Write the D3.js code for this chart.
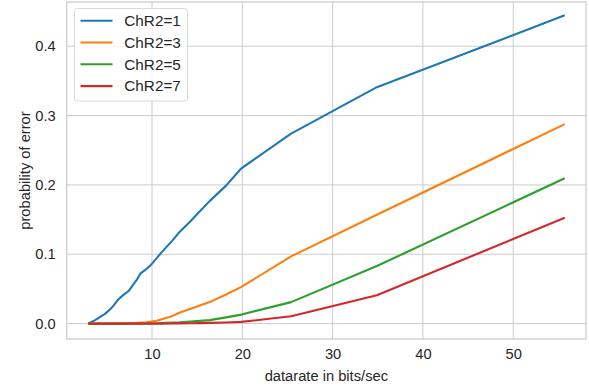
<!DOCTYPE html>
<html lang="en">
<head>
    <meta charset="UTF-8">
    <title>Probability of error vs datarate</title>
    <style>
        body {
            margin: 0;
            background: #fff;
            font-family: "Liberation Sans", Arial, sans-serif;
        }
        svg text {
            fill: #262626;
        }
    </style>
</head>
<body>

<div id="chart"></div>

<script src="https://d3js.org/d3.v7.min.js"></script>
<script>
    // datarate (bits/sec), shared by all curves
    const datarate = [3.06, 3.7, 4.3, 4.8, 5.4, 5.8, 6.2, 6.7, 7.4, 7.8, 8.3, 8.7, 9.4, 9.9,
        10.5, 11.0, 12.2, 13.1, 14.2, 15.3, 16.4, 18.2, 19.9, 25.4, 34.9, 55.6];

    const chr2_1 = [0.001, 0.005, 0.010, 0.014, 0.021, 0.027, 0.034, 0.040, 0.047, 0.054, 0.063, 0.072, 0.079, 0.085,
        0.094, 0.102, 0.119, 0.133, 0.147, 0.162, 0.177, 0.199, 0.224, 0.274, 0.341, 0.444];
    const chr2_3 = [0, 0, 0, 0, 0, 0, 0, 0, 0.0005, 0.0008, 0.001, 0.0015, 0.002, 0.003,
        0.004, 0.006, 0.0105, 0.016, 0.021, 0.026, 0.031, 0.042, 0.053, 0.097, 0.157, 0.287];
    const chr2_5 = [0, 0, 0, 0, 0, 0, 0, 0, 0, 0, 0, 0, 0.0002, 0.0003,
        0.0005, 0.0008, 0.0015, 0.002, 0.003, 0.004, 0.005, 0.009, 0.013, 0.031, 0.083, 0.209];
    const chr2_7 = [0, 0, 0, 0, 0, 0, 0, 0, 0, 0, 0, 0, 0, 0,
        0, 0, 0.0002, 0.0003, 0.0005, 0.0007, 0.001, 0.0017, 0.0025, 0.0105, 0.041, 0.152];

    const seriesNames = ["ChR2=1", "ChR2=3", "ChR2=5", "ChR2=7"];
    const seriesValues = [chr2_1, chr2_3, chr2_5, chr2_7];
    const colors = ["#1f77b4", "#ff7f0e", "#2ca02c", "#d62728"];

    const xTicks = [10, 20, 30, 40, 50];
    const yTicks = [0.0, 0.1, 0.2, 0.3, 0.4];

    const width = 589;
    const height = 388;
    const margin = { top: 2, right: 3, bottom: 49, left: 66.7 };

    const svg = d3.select("#chart")
        .append("svg")
        .attr("width", width)
        .attr("height", height);

    const x = d3.scaleLinear()
        .domain([0.55, 58.06])
        .range([margin.left, width - margin.right]);

    const y = d3.scaleLinear()
        .domain([-0.0222, 0.4638])
        .range([height - margin.bottom, margin.top]);

    // grid
    const grid = svg.append("g").attr("stroke", "#cccccc").attr("stroke-width", 1);
    grid.selectAll("line.vx")
        .data(xTicks)
        .enter()
        .append("line")
        .attr("x1", d => x(d)).attr("x2", d => x(d))
        .attr("y1", margin.top).attr("y2", height - margin.bottom);
    grid.selectAll("line.hy")
        .data(yTicks)
        .enter()
        .append("line")
        .attr("x1", margin.left).attr("x2", width - margin.right)
        .attr("y1", d => y(d)).attr("y2", d => y(d));

    // tick labels via axes (no tick lines)
    const xAxis = svg.append("g")
        .attr("transform", `translate(0,${height - margin.bottom})`)
        .call(d3.axisBottom(x).tickValues(xTicks).tickSize(0).tickPadding(10).tickFormat(d3.format("d")));
    const yAxis = svg.append("g")
        .attr("transform", `translate(${margin.left},0)`)
        .call(d3.axisLeft(y).tickValues(yTicks).tickSize(0).tickPadding(11).tickFormat(d3.format(".1f")));
    [xAxis, yAxis].forEach(a => {
        a.select(".domain").remove();
        a.selectAll("text")
            .attr("font-size", "14.7px")
            .attr("font-family", "Liberation Sans, Arial, sans-serif")
            .attr("fill", "#262626");
    });

    // lines
    const line = d3.line()
        .x((d, i) => x(datarate[i]))
        .y(d => y(d));

    svg.append("g")
        .selectAll("path")
        .data(seriesValues)
        .enter()
        .append("path")
        .attr("d", d => line(d))
        .attr("fill", "none")
        .attr("stroke", (d, i) => colors[i])
        .attr("stroke-width", 2.1)
        .attr("stroke-linejoin", "round")
        .attr("stroke-linecap", "square");

    // frame
    svg.append("rect")
        .attr("x", margin.left)
        .attr("y", margin.top)
        .attr("width", width - margin.left - margin.right)
        .attr("height", height - margin.top - margin.bottom)
        .attr("fill", "none")
        .attr("stroke", "#cccccc")
        .attr("stroke-width", 1.25);

    // axis labels
    svg.append("text")
        .attr("x", (margin.left + width - margin.right) / 2)
        .attr("y", 381)
        .attr("text-anchor", "middle")
        .attr("font-size", "14.7px")
        .text("datarate in bits/sec");

    svg.append("text")
        .attr("transform", `translate(25,${(margin.top + height - margin.bottom) / 2}) rotate(-90)`)
        .attr("text-anchor", "middle")
        .attr("dy", "0.35em")
        .attr("font-size", "14.7px")
        .text("probability of error");

    // legend
    const legend = svg.append("g");
    legend.append("rect")
        .attr("x", 74.5)
        .attr("y", 8.5)
        .attr("width", 113)
        .attr("height", 92.5)
        .attr("rx", 3)
        .attr("fill", "#ffffff")
        .attr("fill-opacity", 0.8)
        .attr("stroke", "#d9d9d9")
        .attr("stroke-width", 1);

    const entry = legend.selectAll("g.entry")
        .data(seriesNames)
        .enter()
        .append("g")
        .attr("transform", (d, i) => `translate(0,${20.7 + i * 21.8})`);
    entry.append("line")
        .attr("x1", 80.5).attr("x2", 112.5)
        .attr("y1", 0).attr("y2", 0)
        .attr("stroke", (d, i) => colors[i])
        .attr("stroke-width", 2.1);
    entry.append("text")
        .attr("x", 124.3)
        .attr("y", 0)
        .attr("dy", "0.35em")
        .attr("font-size", "15.3px")
        .text(d => d);
</script>

</body>
</html>
